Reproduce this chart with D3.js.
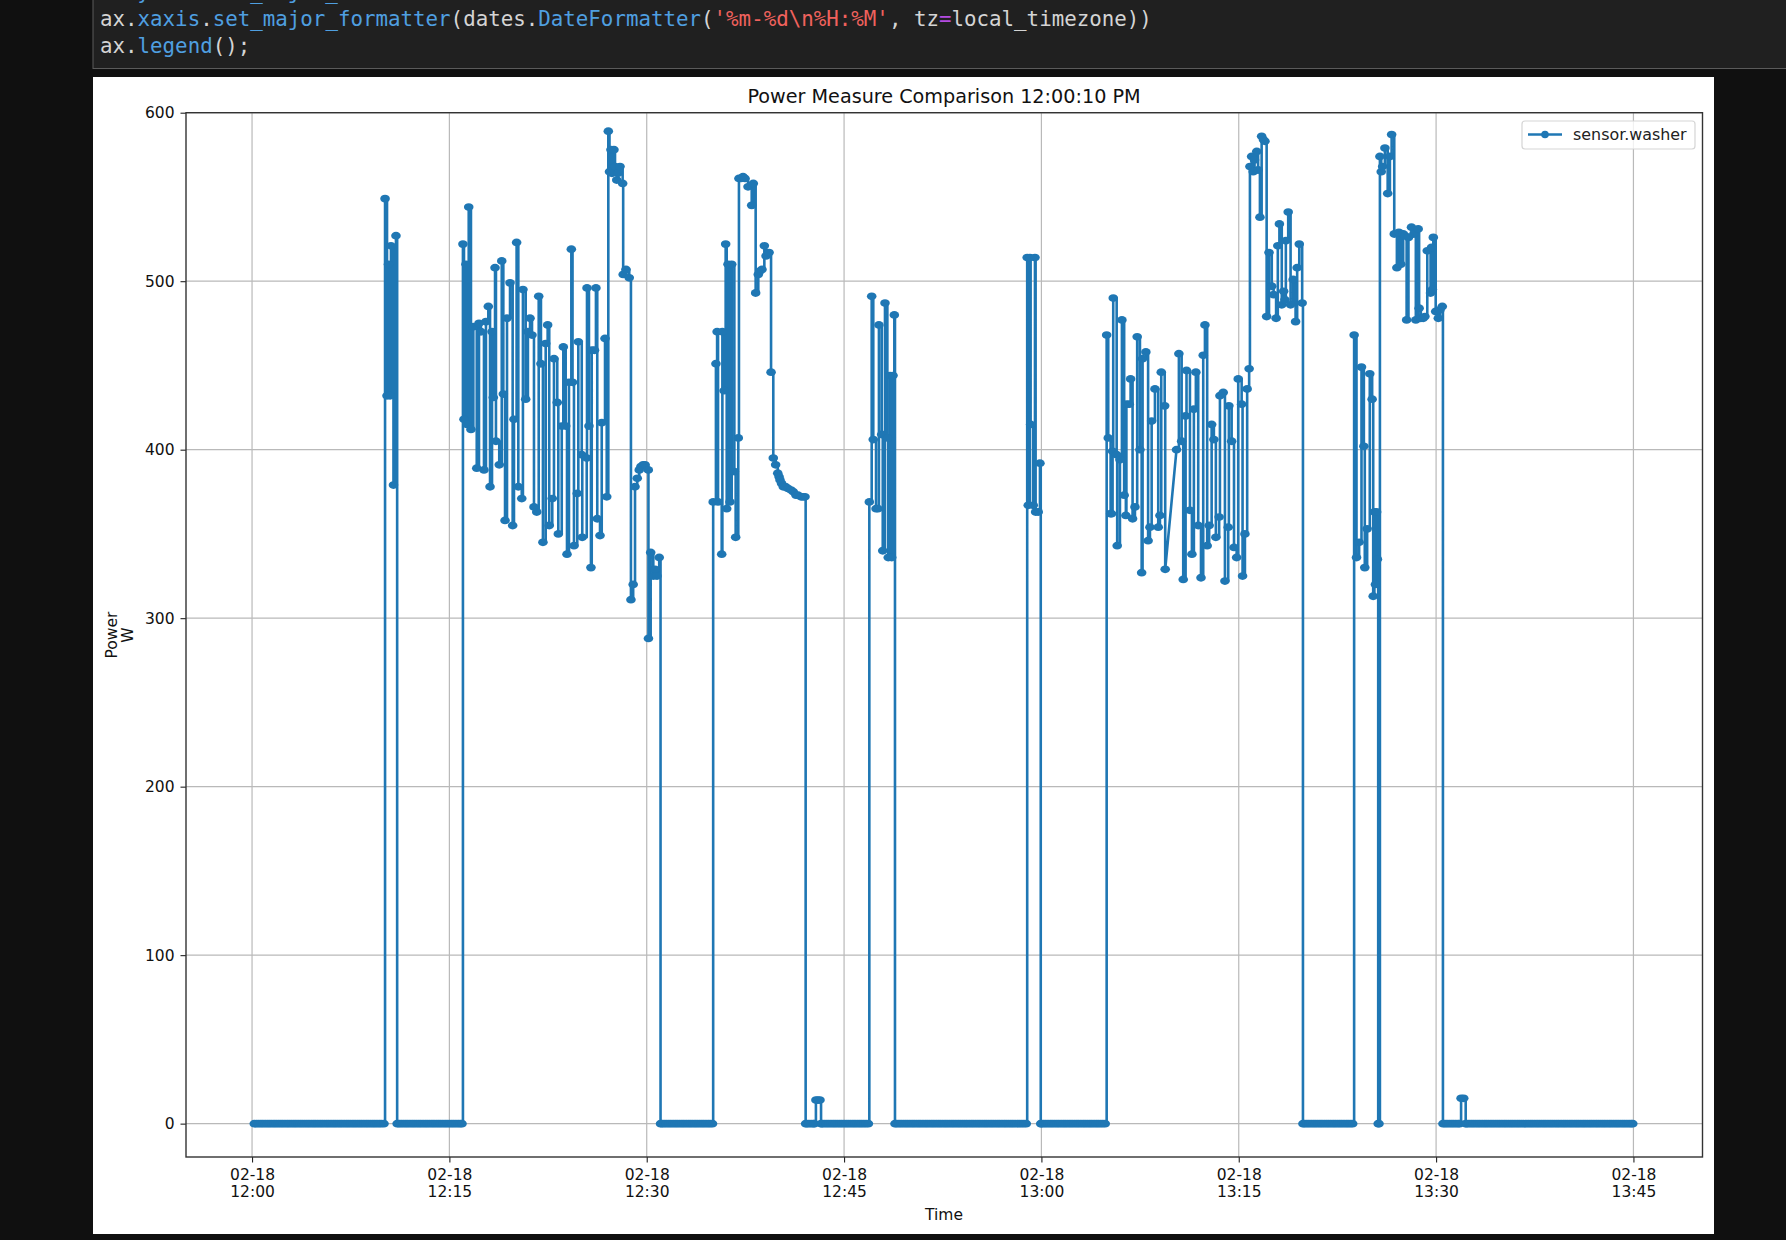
<!DOCTYPE html>
<html>
<head>
<meta charset="utf-8">
<script src="https://cdn.jsdelivr.net/npm/d3@7"></script>
<style>
body { margin: 0; background: #101010; }
svg { display: block; }
text { font-family: "DejaVu Sans", sans-serif; }
.code text { font-family: "DejaVu Sans Mono", monospace; font-size: 20.8px; }
</style>
</head>
<body>
<svg id="chart" width="1786" height="1240"></svg>
<script>
// all times are minutes after 12:00, readings are watts
var idleA = [0.17,0.33,0.5,0.67,0.83,1,1.17,1.33,1.5,1.67,1.83,2,2.17,2.33,2.5,2.67,2.83,3,3.17,3.33,3.5,3.67,3.83,4,4.17,4.33,4.5,4.67,4.83,5,5.17,5.33,5.5,5.67,5.83,6,6.17,6.33,6.5,6.67,6.83,7,7.17,7.33,7.5,7.67,7.83,8,8.17,8.33,8.5,8.67,8.83,9,9.17,9.33,9.5,9.67,9.83,10.03];
var burst1 = [[10.11,549],[10.26,432],[10.37,510],[10.49,432],[10.56,521],[10.75,379],[10.94,527]];
var idleB = [11.03,11.17,11.33,11.5,11.67,11.83,12,12.17,12.33,12.5,12.67,12.83,13,13.17,13.33,13.5,13.67,13.83,14,14.17,14.33,14.5,14.67,14.83,15,15.17,15.33,15.5,15.67,15.83,15.96];
var burst2 = [[16.03,522],[16.11,418],[16.26,510],[16.34,415],[16.47,544],[16.64,412],[16.82,473],[17.08,389],[17.25,475],[17.4,470],[17.63,388],[17.78,476],[17.96,485],[18.09,378],[18.24,470],[18.34,431],[18.47,508],[18.54,405],[18.79,391],[18.98,512],[19.1,433],[19.23,358],[19.38,478],[19.61,499],[19.81,355],[19.91,418],[20.11,523],[20.24,378],[20.5,371],[20.59,495],[20.8,430],[20.97,470],[21.13,478],[21.28,468],[21.43,366],[21.64,363],[21.79,491],[21.96,451],[22.11,345],[22.32,463],[22.47,474],[22.59,355],[22.82,371],[22.95,454],[23.2,428],[23.28,350],[23.54,414],[23.66,461],[23.84,414],[23.94,338],[24.09,440],[24.27,519],[24.36,440],[24.47,343],[24.72,374],[24.8,464],[25.06,397],[25.1,348],[25.44,395],[25.46,496],[25.61,414],[25.76,330],[25.82,459],[26.03,459],[26.14,496],[26.24,359],[26.45,349],[26.58,416],[26.83,466],[26.96,372],[27.08,589],[27.17,565],[27.28,578],[27.36,564],[27.51,578],[27.59,568],[27.72,560],[27.82,564],[27.97,568],[28.17,558],[28.21,504],[28.42,507],[28.67,502],[28.8,311],[28.97,320],[29.11,378],[29.28,383],[29.43,388],[29.56,390],[29.73,391],[29.87,391],[30.12,388],[30.13,288],[30.3,339],[30.5,325],[30.63,329],[30.78,325],[30.95,336]];
var idleC = [31.05,31.17,31.33,31.5,31.67,31.83,32,32.17,32.33,32.5,32.67,32.83,33,33.17,33.33,33.5,33.67,33.83,34,34.17,34.33,34.5,34.67,34.83,35];
var burst3 = [[35.05,369],[35.26,451],[35.35,470],[35.42,369],[35.7,338],[35.75,470],[35.88,435],[36.0,522],[36.08,365],[36.18,510],[36.33,369],[36.46,510],[36.66,387],[36.76,348],[36.96,407],[37.01,561],[37.16,561],[37.32,562],[37.47,561],[37.7,556],[37.98,545],[38.1,558],[38.28,493],[38.48,504],[38.61,506],[38.76,507],[38.94,521],[39.07,515],[39.3,517],[39.45,446],[39.62,395],[39.8,391],[39.96,386],[40.06,384],[40.13,382],[40.25,380],[40.38,378],[40.55,378],[40.74,377],[40.97,376],[41.14,375],[41.35,373],[41.5,373],[41.73,372],[41.88,372],[42.03,372]];
var idleD = [42.08,42.17,42.33,42.5,42.67,42.75];
var spikeA = [[42.86,14],[43.01,14],[43.17,14]];
var idleE = [43.25,43.33,43.5,43.67,43.83,44,44.17,44.33,44.5,44.67,44.83,45,45.17,45.33,45.5,45.67,45.83,46,46.17,46.33,46.5,46.67,46.85];
var burst4 = [[46.92,369],[47.1,491],[47.22,406],[47.43,365],[47.58,365],[47.65,474],[47.86,409],[47.94,340],[48.11,487],[48.29,407],[48.36,336],[48.49,444],[48.62,336],[48.72,444],[48.82,480]];
var idleF = [48.87,49,49.17,49.33,49.5,49.67,49.83,50,50.17,50.33,50.5,50.67,50.83,51,51.17,51.33,51.5,51.67,51.83,52,52.17,52.33,52.5,52.67,52.83,53,53.17,53.33,53.5,53.67,53.83,54,54.17,54.33,54.5,54.67,54.83,55,55.17,55.33,55.5,55.67,55.83,56,56.17,56.33,56.5,56.67,56.83,57,57.17,57.33,57.5,57.67,57.83,58,58.17,58.33,58.5,58.67,58.85];
var burst5 = [[58.92,514],[59.0,367],[59.13,514],[59.18,415],[59.38,367],[59.51,514],[59.56,363],[59.76,363],[59.89,392]];
var idleG = [59.95,60,60.17,60.33,60.5,60.67,60.83,61,61.17,61.33,61.5,61.67,61.83,62,62.17,62.33,62.5,62.67,62.83,63,63.17,63.33,63.5,63.67,63.83,64,64.17,64.33,64.5,64.67,64.85];
var burst6 = [[64.96,468],[65.08,407],[65.26,362],[65.33,362],[65.41,399],[65.46,490],[65.72,397],[65.76,343],[65.97,394],[66.12,477],[66.29,373],[66.42,361],[66.46,427],[66.68,427],[66.78,442],[66.93,359],[67.11,366],[67.28,467],[67.49,400],[67.62,327],[67.69,454],[67.94,458],[68.11,346],[68.25,354],[68.38,417],[68.63,436],[68.88,354],[69.01,361],[69.11,446],[69.37,426],[69.41,329],[70.27,400],[70.45,457],[70.66,405],[70.78,323],[70.96,420],[71.03,447],[71.29,364],[71.44,338],[71.59,424],[71.74,446],[71.92,355],[72.13,324],[72.3,456],[72.43,474],[72.6,343],[72.75,355],[72.94,415],[73.11,406],[73.26,348],[73.51,360],[73.57,432],[73.82,434],[73.95,322],[74.2,354],[74.25,426],[74.46,405],[74.64,342],[74.84,336],[74.96,442],[75.22,427],[75.29,325],[75.47,350],[75.64,436],[75.79,448]];
var burst7 = [[75.85,568],[75.98,574],[76.1,565],[76.2,572],[76.37,577],[76.47,566],[76.61,538],[76.74,586],[76.88,584],[76.99,583],[77.12,479],[77.3,517],[77.51,497],[77.65,492],[77.84,478],[77.97,521],[78.09,534],[78.27,486],[78.41,494],[78.51,489],[78.58,524],[78.76,541],[78.94,486],[79.14,501],[79.32,476],[79.44,508],[79.6,522],[79.82,487]];
var idleH = [79.88,80,80.17,80.33,80.5,80.67,80.83,81,81.17,81.33,81.5,81.67,81.83,82,82.17,82.33,82.5,82.67,82.83,83,83.17,83.33,83.5,83.66];
var burst8 = [[83.77,468],[83.95,336],[84.15,345],[84.33,449],[84.51,402],[84.58,330],[84.76,353],[84.96,445],[85.14,430],[85.22,313],[85.31,363],[85.39,320],[85.48,363],[85.54,335]];
var idleI = [85.6,85.66];
var burst9 = [[85.73,574],[85.83,565],[85.94,568],[86.11,579],[86.32,552],[86.49,574],[86.62,587],[86.82,528],[87.02,508],[87.17,529],[87.32,510],[87.5,528],[87.63,527],[87.76,477],[87.9,526],[88.13,532],[88.31,528],[88.46,477],[88.64,531],[88.71,484],[88.84,478],[89.02,478],[89.15,479],[89.33,518],[89.58,493],[89.65,520],[89.72,495],[89.79,526],[89.97,482],[90.17,478],[90.3,483],[90.47,485]];
var idleJ = [90.52,90.67,90.83,91,91.17,91.33,91.5,91.67,91.8];
var spikeB = [[91.9,15],[92.1,15]];
var idleK = [92.25,92.33,92.5,92.67,92.83,93,93.17,93.33,93.5,93.67,93.83,94,94.17,94.33,94.5,94.67,94.83,95,95.17,95.33,95.5,95.67,95.83,96,96.17,96.33,96.5,96.67,96.83,97,97.17,97.33,97.5,97.67,97.83,98,98.17,98.33,98.5,98.67,98.83,99,99.17,99.33,99.5,99.67,99.83,100,100.17,100.33,100.5,100.67,100.83,101,101.17,101.33,101.5,101.67,101.83,102,102.17,102.33,102.5,102.67,102.83,103,103.17,103.33,103.5,103.67,103.83,104,104.17,104.33,104.5,104.67,104.83,104.95];

var xTicks = [0, 15, 30, 45, 60, 75, 90, 105];
var yTicks = [0, 100, 200, 300, 400, 500, 600];
var seriesName = "sensor.washer";

var codeLines = [
    [["ax.", "#d4d4d4"], ["yaxis.set_major_", "#4f9fe0"]],
    [["ax.", "#d4d4d4"], ["xaxis", "#4f9fe0"], [".", "#d4d4d4"], ["set_major_formatter", "#4f9fe0"], ["(dates.", "#d4d4d4"], ["DateFormatter", "#4f9fe0"], ["(", "#d4d4d4"], ["'%m-%d\\n%H:%M'", "#f0625d"], [", tz", "#d4d4d4"], ["=", "#b44be0"], ["local_timezone))", "#d4d4d4"]],
    [["ax.", "#d4d4d4"], ["legend", "#4f9fe0"], ["();", "#d4d4d4"]]
];

var idle = function (mins) { return mins.map(function (m) { return [m, 0]; }); };
var points = [].concat(
    idle(idleA), burst1, idle(idleB), burst2, idle(idleC), burst3, idle(idleD), spikeA, idle(idleE),
    burst4, idle(idleF), burst5, idle(idleG), burst6, burst7, idle(idleH), burst8, idle(idleI),
    burst9, idle(idleJ), spikeB, idle(idleK)
);

// the sensor holds its last value until the next reading, except across a gap in the log
var gapMinutes = 0.6;
var traced = [];
points.forEach(function (p, i) {
    var prev = points[i - 1];
    if (prev && p[0] - prev[0] < gapMinutes) traced.push([p[0], prev[1]]);
    traced.push(p);
});

var blue = "#1f77b4";
var start = new Date(2024, 1, 18, 12, 0, 0);
var toDate = function (m) { return new Date(start.getTime() + m * 60000); };

var plotLeft = 186, plotRight = 1702.5, plotTop = 112.7, plotBottom = 1157;
var x = d3.scaleTime().domain([toDate(-5.02), toDate(110.25)]).range([plotLeft, plotRight]);
var y = d3.scaleLinear().domain([-19.8, 600]).range([plotBottom, plotTop]);

var svg = d3.select("#chart");

// notebook cell behind the figure
svg.append("rect").attr("x", 93).attr("y", -1).attr("width", 1700).attr("height", 69.5)
    .attr("fill", "#202020").attr("stroke", "#5a5a5a").attr("stroke-width", 1);
var code = svg.append("g").attr("class", "code");
codeLines.forEach(function (parts, i) {
    var t = code.append("text").attr("x", 100).attr("y", -1 + i * 27);
    parts.forEach(function (part) {
        t.append("tspan").attr("fill", part[1]).text(part[0]);
    });
});

svg.append("rect").attr("x", 93).attr("y", 77).attr("width", 1621).attr("height", 1157).attr("fill", "#fff");

// grid
var grid = svg.append("g");
grid.selectAll("line.gx").data(xTicks).enter().append("line").attr("class", "gx")
    .attr("x1", function (d) { return x(toDate(d)); }).attr("x2", function (d) { return x(toDate(d)); })
    .attr("y1", plotTop).attr("y2", plotBottom);
grid.selectAll("line.gy").data(yTicks).enter().append("line").attr("class", "gy")
    .attr("x1", plotLeft).attr("x2", plotRight)
    .attr("y1", function (d) { return y(d); }).attr("y2", function (d) { return y(d); });
grid.selectAll("line").attr("stroke", "#b9b9b9").attr("stroke-width", 1.2);

// series
var line = d3.line().x(function (d) { return x(toDate(d[0])); }).y(function (d) { return y(d[1]); });
svg.append("path").datum(traced).attr("d", line)
    .attr("fill", "none").attr("stroke", blue).attr("stroke-width", 2.6).attr("stroke-linejoin", "round");
svg.append("g").selectAll("ellipse").data(points).enter().append("ellipse")
    .attr("cx", function (d) { return x(toDate(d[0])); })
    .attr("cy", function (d) { return y(d[1]); })
    .attr("rx", 4.8).attr("ry", 3.9).attr("fill", blue);

// axes
var xAxis = d3.axisBottom(x).tickValues(xTicks.map(toDate)).tickSize(5.5).tickPadding(6).tickFormat(d3.timeFormat("%m-%d"));
var gx = svg.append("g").attr("transform", "translate(0," + plotBottom + ")").call(xAxis);
gx.selectAll(".tick text").each(function (d) {
    d3.select(this).append("tspan").attr("x", 0).attr("dy", "1.12em").text(d3.timeFormat("%H:%M")(d));
});
var yAxis = d3.axisLeft(y).tickValues(yTicks).tickSize(5.5).tickPadding(6).tickFormat(d3.format("d"));
svg.append("g").attr("transform", "translate(" + plotLeft + ",0)").call(yAxis);
svg.selectAll(".tick text").attr("font-size", 15.5).attr("fill", "#111").style("font-family", "'DejaVu Sans'");
svg.selectAll(".tick line").attr("stroke", "#222").attr("stroke-width", 1.1);
svg.selectAll(".domain").remove();

// spines
svg.append("rect").attr("x", plotLeft).attr("y", plotTop).attr("width", plotRight - plotLeft).attr("height", plotBottom - plotTop)
    .attr("fill", "none").attr("stroke", "#333").attr("stroke-width", 1.4);

svg.append("text").attr("x", 944).attr("y", 103).attr("text-anchor", "middle")
    .attr("font-size", 19.2).attr("fill", "#111").text("Power Measure Comparison 12:00:10 PM");
svg.append("text").attr("x", 944).attr("y", 1220).attr("text-anchor", "middle")
    .attr("font-size", 15.5).attr("fill", "#111").text("Time");
var yLabel = svg.append("text").attr("transform", "translate(117,635) rotate(-90)")
    .attr("text-anchor", "middle").attr("font-size", 15.5).attr("fill", "#111");
yLabel.append("tspan").attr("x", 0).attr("y", 0).text("Power");
yLabel.append("tspan").attr("x", 0).attr("y", 16).text("W");

// legend
var legend = svg.append("g");
legend.append("rect").attr("x", 1522).attr("y", 121).attr("width", 173).attr("height", 28).attr("rx", 3)
    .attr("fill", "#fff").attr("fill-opacity", 0.8).attr("stroke", "#d5d5d5").attr("stroke-width", 1.2);
legend.append("line").attr("x1", 1528).attr("x2", 1562).attr("y1", 134.5).attr("y2", 134.5)
    .attr("stroke", blue).attr("stroke-width", 2.5);
legend.append("circle").attr("cx", 1545).attr("cy", 134.5).attr("r", 3.8).attr("fill", blue);
legend.append("text").attr("x", 1573).attr("y", 140).attr("font-size", 15.9).attr("fill", "#222").text(seriesName);
</script>
</body>
</html>
